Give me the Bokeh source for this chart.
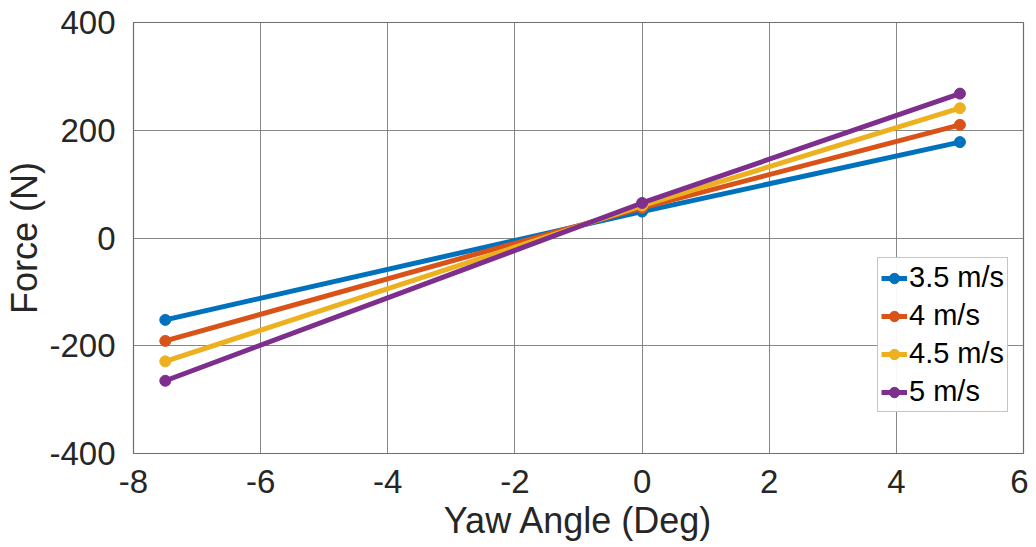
from bokeh.plotting import figure
from bokeh.models import Range1d, FixedTicker, Legend, LegendItem, CustomJSTickFormatter
from bokeh.embed import file_html
from bokeh.resources import INLINE

yaw = [-7.5, 0, 5]
series_names = ["3.5 m/s", "4 m/s", "4.5 m/s", "5 m/s"]
f_35 = [-152, 49, 178]
f_40 = [-191, 56, 210]
f_45 = [-229, 60, 241]
f_50 = [-265, 65, 268]
colors = ["#0072BD", "#D95319", "#EDB120", "#7E2F8E"]
x_ticks = [-8, -6, -4, -2, 0, 2, 4, 6]
y_ticks = [-400, -200, 0, 200, 400]

FONT = "Liberation Sans"
TXT = "#262626"

p = figure(width=1028, height=547, output_backend="svg", toolbar_location=None,
           x_range=Range1d(-8, 6), y_range=Range1d(-400, 400),
           min_border_left=133, min_border_right=5, min_border_top=22, min_border_bottom=94)
p.background_fill_color = "white"
p.border_fill_color = "white"
p.outline_line_color = "#6e6e6e"
p.outline_line_width = 1.2

fmt = "return tick.toString();"
for ax in (p.xaxis[0], p.yaxis[0]):
    ax.major_label_text_font = FONT
    ax.major_label_text_font_size = "33px"
    ax.major_label_text_color = TXT
    ax.axis_label_text_font = FONT
    ax.axis_label_text_font_size = "36px"
    ax.axis_label_text_color = TXT
    ax.axis_label_text_font_style = "normal"
    ax.axis_line_color = None
    ax.major_tick_line_color = None
    ax.minor_tick_line_color = None
    ax.formatter = CustomJSTickFormatter(code=fmt)

p.xaxis.ticker = FixedTicker(ticks=x_ticks)
p.yaxis.ticker = FixedTicker(ticks=y_ticks)
p.xaxis.axis_label = "Yaw Angle (Deg)"
p.yaxis.axis_label = "Force (N)"
p.xaxis.major_label_standoff = 10
p.yaxis.major_label_standoff = 12
p.xaxis.axis_label_standoff = 4
p.yaxis.axis_label_standoff = 1

p.grid.grid_line_color = "#7a7a7a"
p.grid.grid_line_width = 1
p.grid.grid_line_alpha = 0.9

items = []
for name, ys, c in zip(series_names, [f_35, f_40, f_45, f_50], colors):
    r1 = p.line(yaw, ys, line_color=c, line_width=5)
    r2 = p.scatter(yaw, ys, size=11, fill_color=c, line_color=c)
    items.append(LegendItem(label=name, renderers=[r1, r2]))

legend = Legend(items=items, location=(744, 41))
legend.label_text_font = FONT
legend.label_text_font_size = "29px"
legend.label_text_color = "black"
legend.glyph_width = 26
legend.glyph_height = 30
legend.label_standoff = 2
legend.padding = 3
legend.margin = 0
legend.spacing = 5
legend.label_height = 30
legend.border_line_color = "#8a8a8a"
legend.border_line_width = 1
legend.background_fill_color = "white"
p.add_layout(legend, "center")

open("out.html", "w").write(file_html(p, INLINE))
